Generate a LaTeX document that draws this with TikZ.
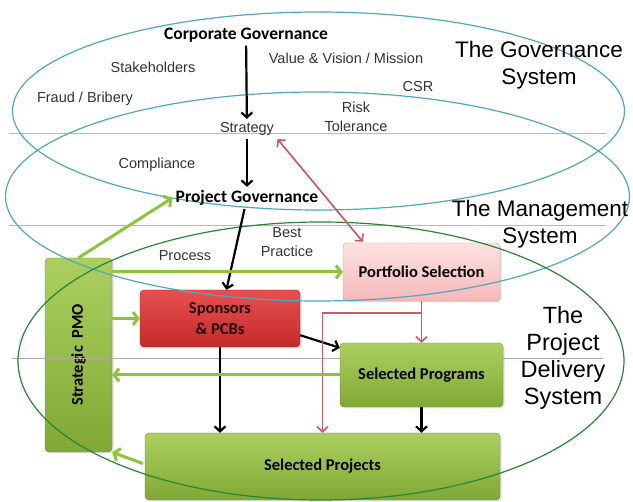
\documentclass[tikz,border=0pt]{standalone}
\usepackage{fontspec}
\setmainfont{Liberation Sans}
\newfontfamily\boxfont{Carlito}
\usetikzlibrary{calc, arrows.meta, shadows}

\definecolor{sysblue}{RGB}{78,168,190}
\definecolor{sysgreen}{RGB}{40,135,50}
\definecolor{flowgreen}{RGB}{142,196,58}
\definecolor{flowred}{RGB}{200,92,98}
\definecolor{greentop}{RGB}{172,208,96}
\definecolor{greenbot}{RGB}{128,168,52}
\definecolor{redtop}{RGB}{232,80,80}
\definecolor{redbot}{RGB}{196,42,42}
\definecolor{pinktop}{RGB}{253,226,226}
\definecolor{pinkbot}{RGB}{246,184,184}

\tikzset{
    system/.style = {line width=1.2pt},
    divider/.style = {line width=0.8pt, draw=gray!55},
    small/.style = {font=\fontsize{14.5}{19}\selectfont, text=black!80, align=center},
    big/.style = {font=\fontsize{22.5}{27}\selectfont, align=center},
    heading/.style = {font=\boxfont\bfseries\fontsize{17.5}{20}\selectfont},
    box/.style = {rounded corners=4pt, inner sep=0pt, align=center,
        font=\boxfont\bfseries\fontsize{16.5}{21}\selectfont,
        drop shadow={opacity=0.25, shadow xshift=1.5pt, shadow yshift=-1.5pt}},
    greenbox/.style = {box, draw=greenbot!85!black, top color=greentop, bottom color=greenbot},
    redbox/.style = {box, draw=redbot!80!black, top color=redtop, bottom color=redbot, text=black!85!red},
    pinkbox/.style = {box, draw=flowred!70, top color=pinktop, bottom color=pinkbot},
    greenflow/.style = {line width=3pt, draw=flowgreen, -{Straight Barb[length=5pt, width=13pt]}},
    blackflow/.style = {line width=2.2pt, -{Straight Barb[length=5pt, width=11pt]}},
    redflow/.style = {line width=1.7pt, draw=flowred, -{Straight Barb[length=5pt, width=11pt]}}
}

\begin{document}
\begin{tikzpicture}[x=1pt, y=-1pt]
        \useasboundingbox (0,0) rectangle (633,502);

        % strategic pmo sits under the dividers
        \node[greenbox, minimum width=67pt, minimum height=194pt] (pmo) at (78.5,355) {\rotatebox{90}{Strategic\ \ PMO}};

        % draw dividers
        \draw[divider] (9,133) -- (606,133);
        \draw[divider] (9,225) -- (606,225);
        \draw[divider, draw=flowred!30!gray!65] (12,358) -- (603,358);

        % boxes
        \node[redbox, minimum width=160pt, minimum height=57pt] (sponsors) at (220,318.5) {Sponsors\\\& PCBs};
        \node[pinkbox, minimum width=157pt, minimum height=58pt] (portfolio) at (421.5,272) {Portfolio Selection};
        \node[greenbox, minimum width=163pt, minimum height=64pt] (programs) at (421.5,375) {Selected Programs};
        \node[greenbox, minimum width=355pt, minimum height=67pt] (projects) at (322.5,466.5) {Selected Projects};

        % draw the three systems
        \draw[system, sysblue] (318.5,111) ellipse [x radius=306pt, y radius=99pt];
        \draw[system, sysblue] (317.5,196.5) ellipse [x radius=312pt, y radius=104.5pt];
        \draw[system, sysgreen] (321,361) ellipse [x radius=303pt, y radius=139pt];

        % texts
        \node[heading] (corp) at (246,35) {Corporate Governance};
        \node[small] (values) at (346,58) {Value \& Vision / Mission};
        \node[small] (stake) at (153,67) {Stakeholders};
        \node[small] (csr) at (418,87) {CSR};
        \node[small] (fraud) at (85,99) {Fraud / Bribery};
        \node[small] (risk) at (356,117) {Risk\\Tolerance};
        \node[small] (strat) at (247,129) {Strategy};
        \node[small] (compl) at (157,165) {Compliance};
        \node[heading] (projgov) at (247,198) {Project Governance};
        \node[small] (best) at (287,242.5) {Best\\Practice};
        \node[small] (process) at (185,256) {Process};

        \node[big] (govsys) at (539,65) {The Governance\\System};
        \node[big] (mgmtsys) at (540,224.5) {The Management\\System};
        \node[big, font=\fontsize{23.5}{27}\selectfont] (delsys) at (563,358) {The\\Project\\Delivery\\System};

        % black flows
        \draw[blackflow] (corp) -- (strat);
        \draw[blackflow] (strat) -- (projgov);
        \draw[blackflow] (projgov) -- (sponsors);
        \draw[blackflow] ($(sponsors.south east)+(0,-12)$) -- ($(programs.north west)+(0,5)$);
        \draw[blackflow] (sponsors) -- (sponsors |- projects.north);
        \draw[blackflow] (programs) -- (programs |- projects.north);

        % red flows
        \draw[redflow, {Straight Barb[length=5pt, width=11pt]}-{Straight Barb[length=5pt, width=11pt]}] (strat.south east) -- ($(portfolio.north west)+(20,-1)$);
        \coordinate (fork) at ($(portfolio.south)+(0,12)$);
        \draw[redflow] (portfolio.south) -- (programs.north);
        \draw[redflow] (fork) -| (projects.north);

        % green flows
        \draw[greenflow] (pmo.north) -- (projgov.west);
        \draw[greenflow] (pmo.east |- portfolio.west) -- (portfolio.west);
        \draw[greenflow] (pmo.east |- sponsors.west) -- (sponsors.west);
        \draw[greenflow] (programs.west) -- (pmo.east |- programs.west);
        \draw[greenflow] ($(projects.west)+(-2,-3)$) -- (pmo.south east);

\end{tikzpicture}
\end{document}
